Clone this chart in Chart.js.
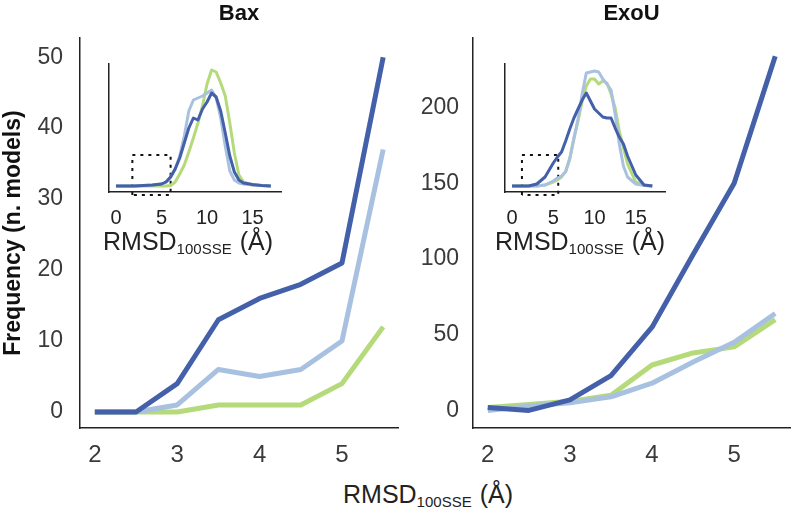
<!DOCTYPE html>
<html>
<head>
<meta charset="utf-8">
<script src="https://cdn.jsdelivr.net/npm/chart.js@4.4.0/dist/chart.umd.min.js"></script>
<style>
  body { margin: 0; background: #fff; width: 793px; height: 511px; position: relative; overflow: hidden;
         font-family: "Liberation Sans", Arial, sans-serif; }
  canvas { position: absolute; }
  .lbl { position: absolute; color: #222; font-size: 25px; line-height: 25px; white-space: nowrap; }
  .lbl sub { font-size: 15px; line-height: 0; vertical-align: baseline; position: relative; top: 4px; }
  .lbl .ang { padding-left: 8px; }
</style>
</head>
<body>
<canvas id="bax" width="410" height="470" style="left:0;top:0"></canvas>
<canvas id="exou" width="373" height="470" style="left:420px;top:0"></canvas>
<canvas id="baxIn" width="195" height="180" style="left:96px;top:54px"></canvas>
<canvas id="exouIn" width="183" height="180" style="left:492px;top:54px"></canvas>
<div class="lbl" style="left:103px;top:229px">RMSD<sub>100SSE</sub><span class="ang">(Å)</span></div>
<div class="lbl" style="left:495px;top:229px">RMSD<sub>100SSE</sub><span class="ang">(Å)</span></div>
<div class="lbl" style="left:343px;top:482px">RMSD<sub>100SSE</sub><span class="ang">(Å)</span></div>
<script>
// main panels: frequency per RMSD bin
var rmsd = [2, 2.5, 3, 3.5, 4, 4.5, 5, 5.5];
var baxDark  = [0, 0, 4, 13, 16, 18, 21, 50];
var baxLight = [0, 0, 1, 6, 5, 6, 10, 37];
var baxGreen = [0, 0, 0, 1, 1, 1, 4, 12];
var exoDark  = [2, 0, 7, 23, 55, 103, 150, 234];
var exoLight = [0, 3, 5, 9, 18, 32, 45, 64];
var exoGreen = [2, 4, 6, 10, 30, 38, 42, 60];
var xTicks = [2, 3, 4, 5];
var baxTicks = [0, 10, 20, 30, 40, 50];
var exoTicks = [0, 50, 100, 150, 200];

// insets: full distributions (no y scale shown)
var insetX = [0, 1, 2, 3, 4, 5, 5.5, 6, 6.5, 7, 7.5, 8, 8.5, 9, 9.5, 10, 10.5, 11, 11.5, 12, 12.5, 13, 13.5, 14, 15, 16, 17];
var baxInDark  = [0, 0, 0, 0.5, 1, 2, 4, 9, 17, 28, 43, 58, 68, 66, 77, 84, 93, 89, 75, 53, 30, 14, 6, 3, 1.5, 0.5, 0];
var baxInLight = [0, 0, 0, 0.5, 1, 2, 4, 9, 17, 30, 50, 75, 86, 88, 90, 93, 96, 88, 68, 40, 15, 6, 3, 2, 1, 0.5, 0];
var baxInGreen = [0, 0, 0, 0, 0, 0, 0, 0.5, 4, 12, 21, 34, 48, 63, 80, 102, 116, 114, 103, 90, 63, 33, 11, 4, 1, 0.5, 0];
var exoInDark  = [0, 0, 0, 2, 9, 23, 29, 34, 45, 57, 68, 77, 86, 93, 85, 77, 73, 69, 68, 68, 58, 49, 42, 30, 11, 1, 0];
var exoInLight = [0, 0, 0, 0, 1, 5, 8, 10, 14, 28, 48, 67, 92, 113, 114, 115, 114, 107, 102, 96, 72, 42, 20, 9, 2, 0.5, 0];
var exoInGreen = [0, 0, 0, 0, 1, 4, 6, 9, 15, 27, 47, 65, 85, 100, 107, 107, 102, 105, 103, 92, 78, 55, 38, 22, 4, 1, 0];
var insetTicks = [0, 5, 10, 15];
// zoom boxes drawn in the insets
var baxBoxX = [1.8, 1.8, 6, 6, 1.8];
var baxBoxY = [-9, 31, 31, -9, -9];
var exoBoxX = [1.2, 1.2, 5.6, 5.6, 1.2];
var exoBoxY = [-9, 31, 31, -9, -9];

var DARK = '#4360a9';
var LIGHT = '#a8c1e0';
var GREEN = '#b5da79';

Chart.defaults.font.family = "'Liberation Sans', Arial, sans-serif";
Chart.defaults.color = '#3a3a3a';

function pts(xs, ys) {
    return xs.map(function(x, i) { return {x: x, y: ys[i]}; });
}

function line(data, color, w) {
    return {data: data, borderColor: color, borderWidth: w, pointRadius: 0,
            fill: false, tension: 0, borderJoinStyle: 'round'};
}

function fixTicks(list) {
    return function(scale) { scale.ticks = list.map(function(v) { return {value: v}; }); };
}

function mainChart(id, title, dark, light, green, ymin, ymax, yTicks, yWidth, padRight, tickPad, yTitle) {
    new Chart(document.getElementById(id), {
        type: 'line',
        data: {
            datasets: [
                line(pts(rmsd, dark), DARK, 5),
                line(pts(rmsd, light), LIGHT, 5),
                line(pts(rmsd, green), GREEN, 5)
            ]
        },
        options: {
            responsive: false,
            animation: false,
            layout: {padding: {top: 0, right: padRight, bottom: 0, left: 0}},
            plugins: {
                legend: {display: false},
                tooltip: {enabled: false},
                title: {display: true, text: title, fullSize: false, color: '#111',
                        font: {size: 22, weight: 'bold'}, padding: {top: 1, bottom: 10.6}}
            },
            scales: {
                x: {
                    type: 'linear', min: 1.82, max: 5.68,
                    grid: {display: false, drawTicks: false},
                    border: {display: true, color: '#222', width: 1.5},
                    ticks: {font: {size: 24}, padding: 13},
                    afterBuildTicks: fixTicks(xTicks),
                    afterFit: function(s) { s.height = 42; }
                },
                y: {
                    min: ymin, max: ymax,
                    grid: {display: false, drawTicks: false},
                    border: {display: true, color: '#222', width: 1.5},
                    ticks: {font: {size: 23}, padding: tickPad},
                    afterBuildTicks: fixTicks(yTicks),
                    afterFit: function(s) { s.width = yWidth; },
                    title: {display: !!yTitle, text: yTitle || '', color: '#111',
                            font: {size: 23, weight: 'bold'}, padding: {top: 0, bottom: 0}}
                }
            }
        }
    });
}

function insetChart(id, dark, light, green, boxX, boxY, xmin, xmax) {
    var box = line(pts(boxX, boxY), '#111', 2);
    box.borderDash = [3, 5];
    box.clip = false;
    box.borderJoinStyle = 'miter';
    new Chart(document.getElementById(id), {
        type: 'line',
        data: {
            datasets: [
                line(pts(insetX, dark), DARK, 3),
                line(pts(insetX, light), LIGHT, 3),
                line(pts(insetX, green), GREEN, 3),
                box
            ]
        },
        options: {
            responsive: false,
            animation: false,
            layout: {padding: {top: 10, right: 10, bottom: 0, left: 0}},
            plugins: {legend: {display: false}, tooltip: {enabled: false}},
            scales: {
                x: {
                    type: 'linear', min: xmin, max: xmax,
                    grid: {display: false, drawTicks: false},
                    border: {display: true, color: '#222', width: 1.5},
                    ticks: {font: {size: 20}, color: '#222', padding: 14},
                    afterBuildTicks: fixTicks(insetTicks),
                    afterFit: function(s) { s.height = 42; }
                },
                y: {
                    min: -6, max: 122,
                    grid: {display: false, drawTicks: false},
                    border: {display: true, color: '#222', width: 1.5},
                    ticks: {display: false},
                    afterFit: function(s) { s.width = 10; }
                }
            }
        }
    });
}

mainChart('bax', 'Bax', baxDark, baxLight, baxGreen, -2.25, 52.7, baxTicks, 80, 12, 17, 'Frequency (n. models)');
mainChart('exou', 'ExoU', exoDark, exoLight, exoGreen, -11.6, 246, exoTicks, 53, 3, 14, null);
insetChart('baxIn', baxInDark, baxInLight, baxInGreen, baxBoxX, baxBoxY, -0.75, 18.12);
insetChart('exouIn', exoInDark, exoInLight, exoInGreen, exoBoxX, exoBoxY, -0.93, 18.54);
</script>
</body>
</html>
